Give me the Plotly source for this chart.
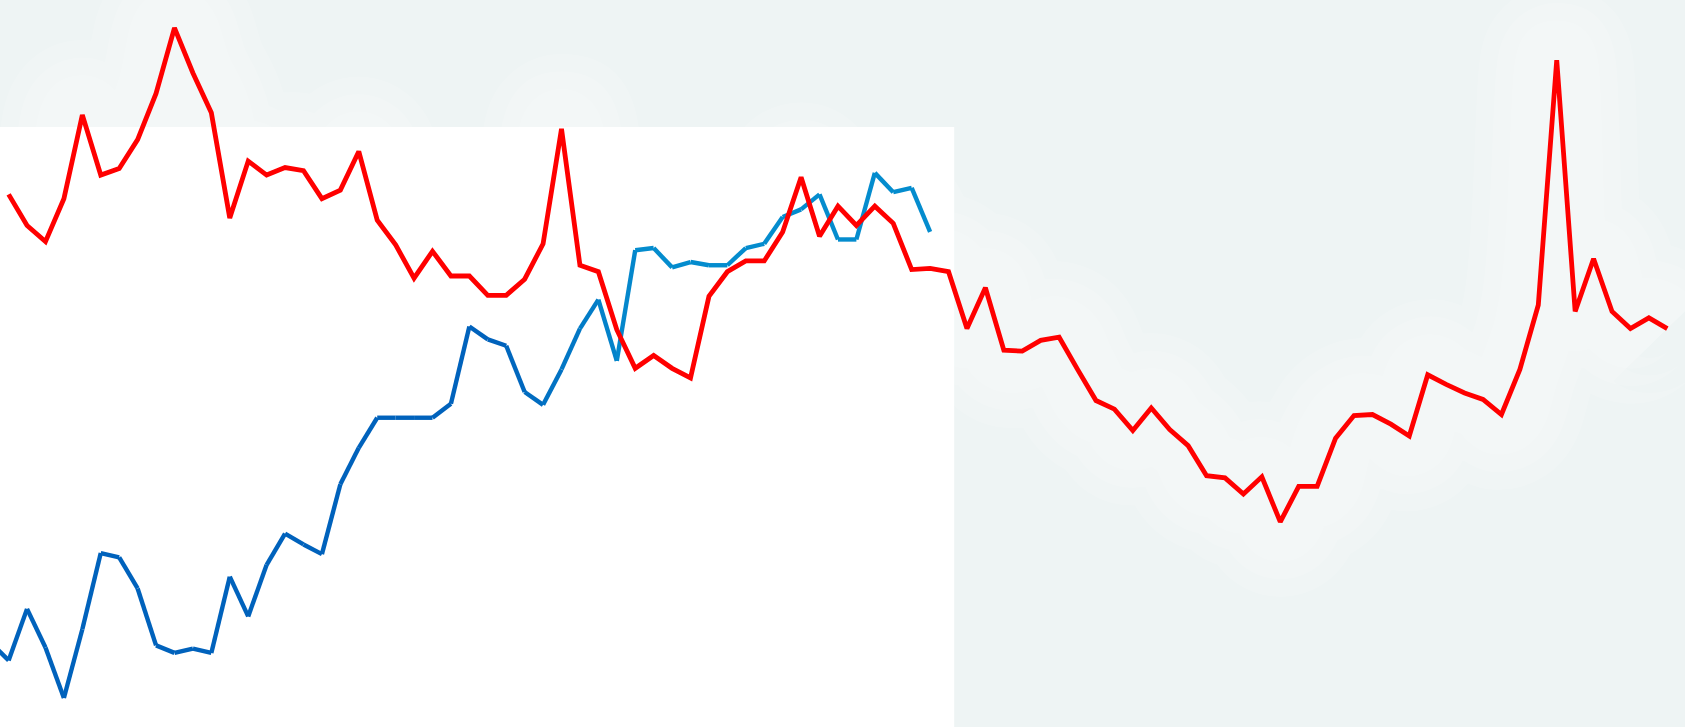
import plotly.graph_objects as go

# series values (arbitrary units, higher = up)
red_idx = list(range(0, 91))
red_vals = [
    496, 467, 452, 492, 570, 514, 520, 547, 590, 651,
    609, 572, 474, 527, 514, 521, 518, 492, 500, 536,
    472, 449, 418, 443, 420, 420, 402, 402, 417, 450,
    557, 430, 424, 370, 334, 346, 334, 325, 401, 424,
    434, 434, 461, 512, 457, 485, 467, 485, 469, 426,
    427, 424, 371, 409, 351, 350, 360, 363, 333, 304,
    296, 276, 297, 277, 262, 234, 232, 217, 233, 191,
    224, 224, 269, 290, 291, 282, 271, 328, 319, 311,
    305, 291, 333, 393, 621, 387, 436, 387, 371, 381,
    371,
]

blue_idx = list(range(-1, 51))
blue_vals = [
    79,
    62, 110, 74, 27, 91, 162, 158, 129, 76, 69,
    73, 69, 140, 103, 151, 180, 170, 161, 226, 260,
    288, 288, 288, 288, 301, 373, 361, 355, 312, 300,
    333, 371, 398, 341, 444, 446, 428, 433, 430, 430,
    446, 450, 475, 482, 496, 454, 454, 516, 498, 502,
    461,
]

BG = "#eef4f4"
DARK_BLUE = (0, 98, 188)
LIGHT_BLUE = (4, 140, 206)


def blend(t):
    t = max(0.0, min(1.0, t))
    r, g, b = (round(a + (c - a) * t) for a, c in zip(DARK_BLUE, LIGHT_BLUE))
    return f"rgb({r},{g},{b})"


fig = go.Figure()

# soft light halo that follows the red series over the grey background,
# a few wide translucent strokes stacked to fake a blur
for w in (150, 115, 80):
    fig.add_trace(go.Scatter(
        x=red_idx, y=red_vals, mode="lines",
        line=dict(color="rgba(255,255,255,0.13)", width=w, shape="spline", smoothing=1.3),
        hoverinfo="skip",
    ))

# blue series, drawn segment by segment so the colour can shift along it
for k in range(len(blue_idx) - 1):
    t = (blue_idx[k] - 26) / 8.0
    fig.add_trace(go.Scatter(
        x=blue_idx[k:k + 2], y=blue_vals[k:k + 2], mode="lines",
        line=dict(color=blend(t), width=4.4),
        hoverinfo="skip",
    ))

fig.add_trace(go.Scatter(
    x=red_idx, y=red_vals, mode="lines",
    line=dict(color="#ff0000", width=4.8),
))

fig.add_shape(
    type="rect", xref="paper", yref="paper",
    x0=0, x1=0.5663, y0=0, y1=0.8253,
    fillcolor="white", line=dict(width=0), layer="below",
)

fig.update_layout(
    width=1685, height=727,
    margin=dict(l=0, r=0, t=0, b=0),
    paper_bgcolor=BG, plot_bgcolor=BG,
    showlegend=False,
    xaxis=dict(visible=False, range=[-0.467, 90.96]),
    yaxis=dict(visible=False, range=[0, 677]),
)

fig.write_html(
    "out.html",
    config={"displayModeBar": False},
    post_script="document.body.style.margin='0';document.body.style.overflow='hidden';",
)
